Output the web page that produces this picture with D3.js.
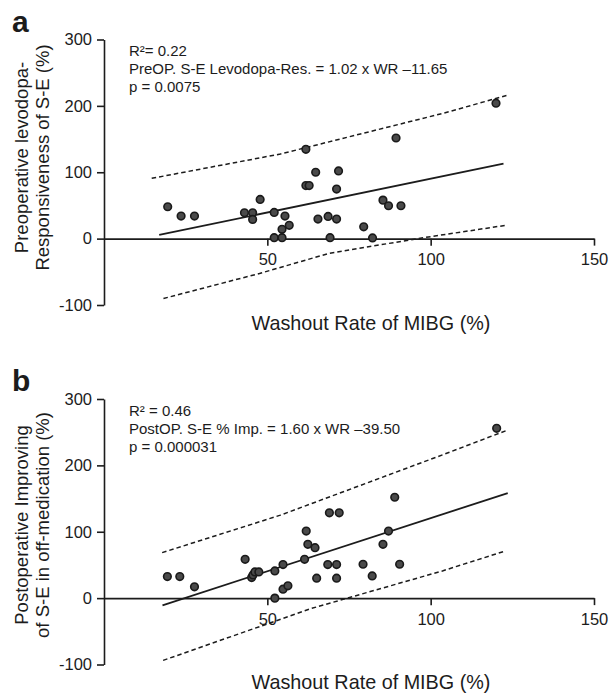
<!DOCTYPE html>
<html>
<head>
<meta charset="utf-8">
<script src="https://cdnjs.cloudflare.com/ajax/libs/d3/7.8.5/d3.min.js"></script>
<style>
body { margin: 0; background: #fff; }
svg { display: block; }
text { font-family: "Liberation Sans", Arial, Helvetica, sans-serif; fill: #1c1c1c; }
.axis path, .axis line { stroke: #1c1c1c; stroke-width: 1.6; }
.axis text { font-size: 16.5px; fill: #1c1c1c; font-family: "Liberation Sans", Arial, sans-serif; }
</style>
</head>
<body>
<svg id="chart" width="611" height="695"></svg>
<script>
// values
var xTicks = [50, 100, 150];
var yTicks = [-100, 0, 100, 200, 300];

var washoutA = [19.5, 23.6, 27.7, 43.0, 45.5, 45.5, 47.8, 52.1, 55.4, 56.7, 52.1, 54.5, 54.5, 61.8, 64.8,
    71.8, 61.8, 62.8, 71.2, 65.5, 68.6, 71.2, 69.2, 79.5, 82.2, 85.4, 87.1, 90.9, 89.4, 120.0];
var levodopaResp = [48, 34, 34, 39, 39, 29, 59, 39.5, 34, 20, 1.5, 1.5, 14, 134.5, 100,
    102, 80, 80, 74.7, 29.4, 33.5, 29.4, 1.5, 17.8, 1, 58, 49.5, 49.5, 151.6, 204];

var washoutB = [19.4, 23.2, 27.7, 43.2, 45.2, 45.6, 46.2, 47.4, 52.3, 54.8, 52.3, 54.8, 56.3, 61.4, 61.9,
    62.4, 64.6, 65.1, 69.0, 72.0, 68.5, 71.2, 71.2, 79.3, 82.1, 85.4, 87.1, 90.5, 89.0, 120.2];
var postopImp = [32.5, 32.5, 17, 58.5, 31, 35, 39.5, 39.5, 41, 50.5, 0, 13.5, 18.5, 58.5, 101,
    81, 76, 30, 128.5, 128.5, 50.5, 50.5, 30, 51, 33.5, 81, 101, 51, 152, 255.8];

// regression: slope, intercept, x from, x to
var fitA = [1.02, -11.65, 16.9, 122.3];
var fitB = [1.60, -39.50, 17.9, 123.6];

// 95% bands read at a few x positions
var upperAx = [14.6, 54, 103.8, 123.8];
var upperAy = [90.8, 127.5, 188.8, 216.4];
var lowerAx = [18.2, 47.6, 68.8, 96, 123.5];
var lowerAy = [-90.2, -52.5, -22.3, 0, 20.4];
var upperBx = [17.8, 54, 103.6, 123.6];
var upperBy = [68.5, 125, 215.8, 253.3];
var lowerBx = [18.1, 63.6, 103.6, 122.2];
var lowerBy = [-93.8, -15.4, 41, 70];

var notesA = ["R\u00b2= 0.22", "PreOP. S-E Levodopa-Res. = 1.02 x WR \u201311.65", "p = 0.0075"];
var notesB = ["R\u00b2 = 0.46", "PostOP. S-E % Imp. = 1.60 x WR \u201339.50", "p = 0.000031"];
var yTitleA = ["Preoperative levodopa-", "Responsiveness of S-E (%)"];
var yTitleB = ["Postoperative Improving", "of S-E in off-medication (%)"];
var xTitle = "Washout Rate of MIBG (%)";

var svg = d3.select("#chart");

function drawPanel(opt) {
    var g = svg.append("g").classed("panel", true);
    var x = d3.scaleLinear().domain([0, 150]).range([104, 594]);
    var y = d3.scaleLinear().domain([-100, 300]).range([opt.top + 265.5, opt.top]);

    g.append("g")
        .attr("class", "axis")
        .attr("transform", "translate(" + x(0) + ",0)")
        .call(d3.axisLeft(y).tickValues(yTicks).tickSize(7).tickSizeOuter(0).tickPadding(5)
            .tickFormat(function (d) { return String(d); }));

    g.append("g")
        .attr("class", "axis")
        .attr("transform", "translate(0," + y(0) + ")")
        .call(d3.axisBottom(x).tickValues(xTicks).tickSize(7).tickSizeOuter(0).tickPadding(8));

    var band = d3.line()
        .x(function (d) { return x(d[0]); })
        .y(function (d) { return y(d[1]); });

    [d3.zip(opt.upX, opt.upY), d3.zip(opt.loX, opt.loY)].forEach(function (pts) {
        g.append("path")
            .attr("d", band(pts))
            .attr("fill", "none")
            .attr("stroke", "#1c1c1c")
            .attr("stroke-width", 1.5)
            .attr("stroke-dasharray", "4.5,3");
    });

    var f = opt.fit;
    g.append("line")
        .attr("x1", x(f[2])).attr("y1", y(f[0] * f[2] + f[1]))
        .attr("x2", x(f[3])).attr("y2", y(f[0] * f[3] + f[1]))
        .attr("stroke", "#1c1c1c")
        .attr("stroke-width", 1.8);

    g.selectAll("circle.pt")
        .data(d3.zip(opt.xs, opt.ys))
        .enter().append("circle")
        .classed("pt", true)
        .attr("cx", function (d) { return x(d[0]); })
        .attr("cy", function (d) { return y(d[1]); })
        .attr("r", 3.8)
        .attr("fill", "#4a4a4a")
        .attr("stroke", "#1a1a1a")
        .attr("stroke-width", 1.6);

    g.selectAll("text.note")
        .data(opt.notes)
        .enter().append("text")
        .classed("note", true)
        .attr("x", 129)
        .attr("y", function (d, i) { return opt.top + 16.5 + i * 18.2; })
        .style("font-size", "15px")
        .text(function (d) { return d; });

    g.selectAll("text.ytitle")
        .data(opt.yTitle)
        .enter().append("text")
        .classed("ytitle", true)
        .attr("transform", function (d, i) { return "translate(" + (28 + i * 21) + "," + (opt.top + opt.titleMid) + ") rotate(-90)"; })
        .style("text-anchor", "middle")
        .style("font-size", "18.5px")
        .text(function (d) { return d; });

    g.append("text")
        .attr("x", 371)
        .attr("y", opt.top + 290)
        .style("text-anchor", "middle")
        .style("font-size", "19.8px")
        .text(xTitle);

    g.append("text")
        .attr("x", 12)
        .attr("y", opt.top - 8)
        .style("font-size", "30px")
        .style("font-weight", "bold")
        .text(opt.label);
}

drawPanel({ label: "a", top: 39.5, titleMid: 118, xs: washoutA, ys: levodopaResp, fit: fitA,
    upX: upperAx, upY: upperAy, loX: lowerAx, loY: lowerAy, notes: notesA, yTitle: yTitleA });
drawPanel({ label: "b", top: 399, titleMid: 126, xs: washoutB, ys: postopImp, fit: fitB,
    upX: upperBx, upY: upperBy, loX: lowerBx, loY: lowerBy, notes: notesB, yTitle: yTitleB });
</script>
</body>
</html>
